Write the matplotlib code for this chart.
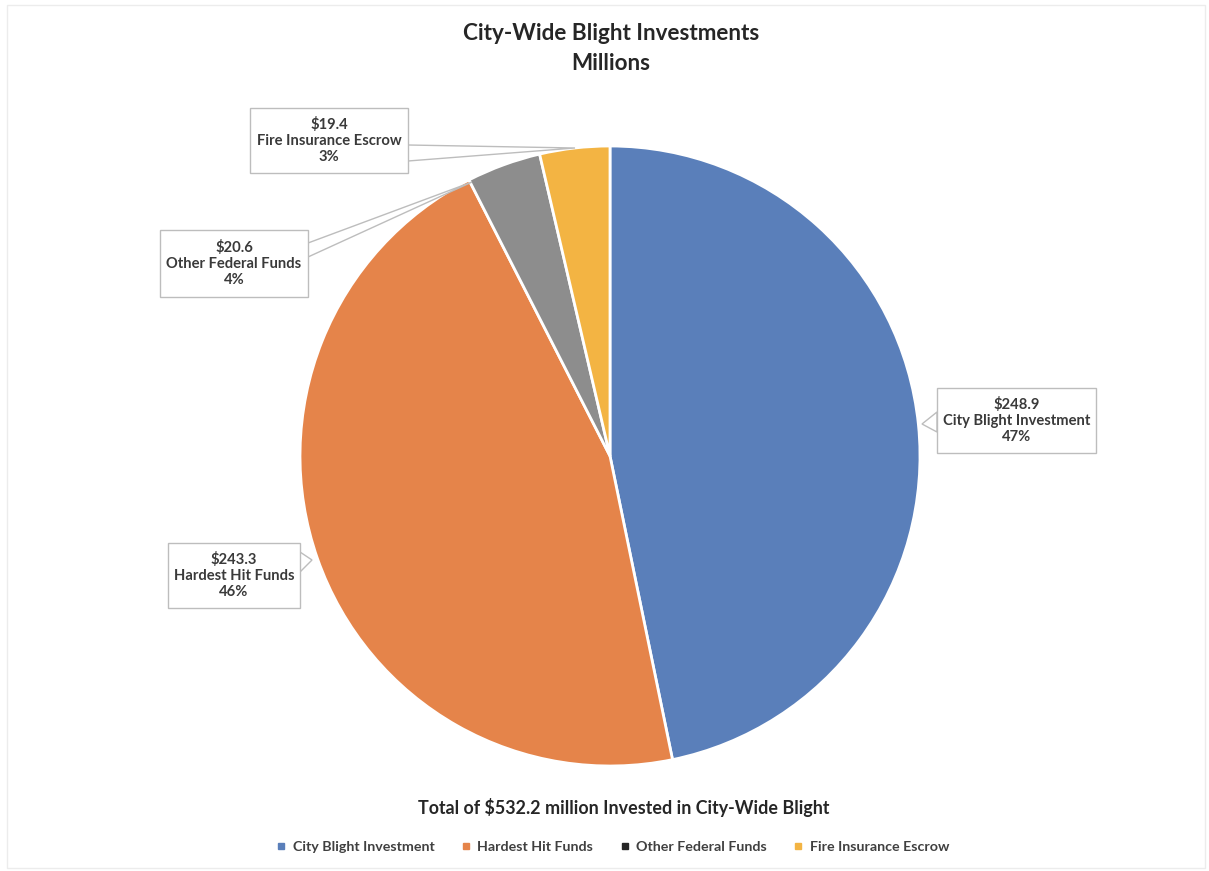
import matplotlib
matplotlib.use("Agg")
import matplotlib.pyplot as plt
from matplotlib.patches import Rectangle, Polygon
from matplotlib.lines import Line2D

# ---- data ----
categories = ["City Blight Investment", "Hardest Hit Funds", "Other Federal Funds", "Fire Insurance Escrow"]
values = [248.9, 243.3, 20.6, 19.4]
value_labels = ["$248.9", "$243.3", "$20.6", "$19.4"]
pct_labels = ["47%", "46%", "4%", "3%"]
colors = ["#5a7fba", "#e5844a", "#8d8d8d", "#f3b443"]
title = "City-Wide Blight Investments\nMillions"
subtitle = "Total of $532.2 million Invested in City-Wide Blight"

FONT = ["Lato", "DejaVu Sans"]
plt.rcParams['font.family'] = FONT

W, H = 1209, 871
CX, CY, R = 610, 456, 310

fig = plt.figure(figsize=(W / 100, H / 100), dpi=100)
ax = fig.add_axes([0, 0, 1, 1])
ax.pie(values, colors=colors, startangle=90, counterclock=False, radius=1,
       wedgeprops=dict(edgecolor="white", linewidth=2))
ax.set_xlim(-CX / R, (W - CX) / R)
ax.set_ylim(-(H - CY) / R, CY / R)
ax.axis("off")


def P(x, y):
    return ((x - CX) / R, (CY - y) / R)


# layout of label boxes (pixel coords): box, callout base points, tip
layout = [
    dict(box=(937, 388, 1096, 453), base=((937, 412), (937, 432)), tip=(922, 424)),
    dict(box=(168, 543, 300, 608), base=((300, 552), (300, 572)), tip=(312, 560)),
    dict(box=(160, 230, 308, 297), base=((308, 243), (308, 257)), tip=(472, 182)),
    dict(box=(250, 108, 408, 173), base=((408, 145), (408, 161)), tip=(575, 148)),
]
edge_col = "#bdbdbd"
for i, lay in enumerate(layout):
    x0, y0, x1, y1 = lay["box"]
    poly = Polygon([P(*lay["base"][0]), P(*lay["tip"]), P(*lay["base"][1])],
                   closed=True, facecolor="white", edgecolor=edge_col, lw=1, zorder=5)
    ax.add_patch(poly)
    bx, by = P(x0, y1)
    rect = Rectangle((bx, by), (x1 - x0) / R, (y1 - y0) / R, facecolor="white",
                     edgecolor=edge_col, lw=1, zorder=6)
    ax.add_patch(rect)
    cx = (x0 + x1) / 2
    cy = (y0 + y1) / 2
    for dy, txt in zip((-16, 0, 16), (value_labels[i], categories[i], pct_labels[i])):
        ax.text(*P(cx, cy + dy), txt, ha="center", va="center", fontsize=10.6,
                fontweight="bold", color="#3a3a3a", zorder=7)

fig.text(611 / W, 1 - 33 / H, title.split("\n")[0], ha="center", va="center", fontsize=16.2,
         fontweight="bold", color="#262626")
fig.text(611 / W, 1 - 63 / H, title.split("\n")[1], ha="center", va="center", fontsize=16.2,
         fontweight="bold", color="#262626")
fig.text(624 / W, 1 - 807 / H, subtitle, ha="center", va="center", fontsize=12.9,
         fontweight="bold", color="#262626")

handles = [Line2D([], [], marker="s", linestyle="none", markersize=5,
                  markerfacecolor=c, markeredgecolor=c) for c in colors]
handles[2] = Line2D([], [], marker="s", linestyle="none", markersize=5,
                    markerfacecolor="#262626", markeredgecolor="#262626")
fig.legend(handles, categories, loc="center", bbox_to_anchor=(613 / W, 1 - 847 / H),
           ncol=4, frameon=False, handlelength=0.6, handletextpad=0.5,
           columnspacing=1.9, prop=dict(family=FONT, size=10.3, weight="bold"),
           labelcolor="#404040")

fig.patches.append(Rectangle((7 / W, 3 / H), 1198 / W, 863 / H, transform=fig.transFigure,
                             facecolor="none", edgecolor="#ececec", lw=1))

fig.savefig("out.png", dpi=100)
